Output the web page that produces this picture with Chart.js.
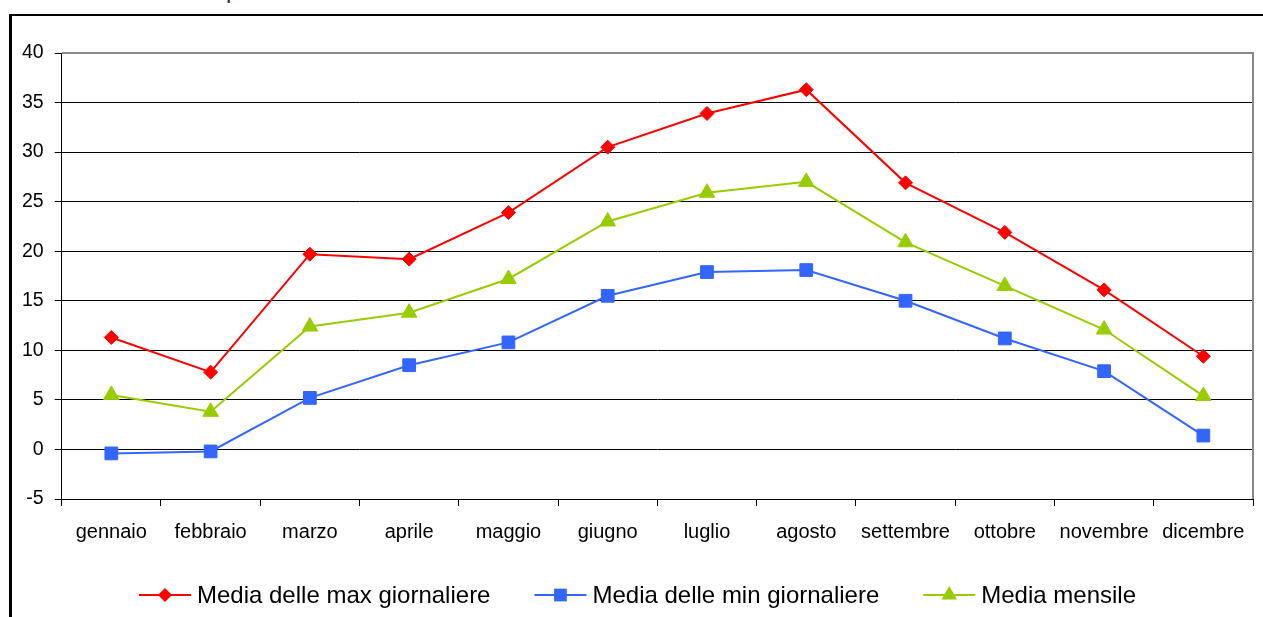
<!DOCTYPE html>
<html>
<head>
<meta charset="utf-8">
<script src="https://cdn.jsdelivr.net/npm/chart.js@4.4.1/dist/chart.umd.min.js"></script>
<style>
  html, body { margin: 0; padding: 0; background: #fff; overflow: hidden; }
  #frame { position: absolute; left: 9px; top: 14px; width: 3000px; height: 3000px;
           border-top: 2px solid #000; border-left: 3px solid #000; box-sizing: border-box; }
  #title { position: absolute; left: 226px; top: -22px; font: 24px/24px "Liberation Sans", Arial, sans-serif; color: #333; white-space: nowrap; }
  #wrap { position: absolute; left: 0; top: 0; width: 1263px; height: 617px; }
</style>
</head>
<body>
<div id="title">p</div>
<div id="frame"></div>
<div id="wrap"><canvas id="c" width="1263" height="617"></canvas></div>
<script>
// ---- data ----
const months = ['gennaio','febbraio','marzo','aprile','maggio','giugno','luglio','agosto','settembre','ottobre','novembre','dicembre'];
const maxVals  = [11.3, 7.8, 19.7, 19.2, 23.9, 30.5, 33.9, 36.3, 26.9, 21.9, 16.1, 9.4];
const minVals  = [-0.4, -0.2, 5.2, 8.5, 10.8, 15.5, 17.9, 18.1, 15.0, 11.2, 7.9, 1.4];
const meanVals = [5.5, 3.8, 12.4, 13.8, 17.2, 23.0, 25.9, 27.0, 20.9, 16.5, 12.1, 5.4];
const seriesLabels = ['Media delle max giornaliere', 'Media delle min giornaliere', 'Media mensile'];
const yTicks = [-5, 0, 5, 10, 15, 20, 25, 30, 35, 40];

const FONT = '"Liberation Sans", Arial, sans-serif';

function drawMarker(ctx, style, x, y, r) {
  ctx.beginPath();
  if (style === 'rectRot') {
    ctx.moveTo(x - r, y); ctx.lineTo(x, y - r); ctx.lineTo(x + r, y); ctx.lineTo(x, y + r);
  } else if (style === 'rect') {
    const s = Math.SQRT1_2 * r;
    ctx.rect(x - s, y - s, 2 * s, 2 * s);
  } else if (style === 'triangle') {
    const a = 2 * Math.PI / 3;
    ctx.moveTo(x, y - r);
    ctx.lineTo(x + Math.sin(a) * r, y - Math.cos(a) * r);
    ctx.lineTo(x + Math.sin(2 * a) * r, y - Math.cos(2 * a) * r);
  }
  ctx.closePath();
  ctx.fill();
}

const plotBorder = {
  id: 'plotBorder',
  beforeDatasetsDraw(chart) {
    const { ctx, chartArea: a } = chart;
    ctx.save();
    ctx.strokeStyle = '#888';
    ctx.lineWidth = 2;
    ctx.beginPath();
    ctx.moveTo(a.left, a.top);
    ctx.lineTo(a.right, a.top);
    ctx.lineTo(a.right, a.bottom);
    ctx.stroke();
    ctx.restore();
  }
};

const lineLegend = {
  id: 'lineLegend',
  afterDraw(chart) {
    const ctx = chart.ctx;
    ctx.save();
    ctx.font = '24px ' + FONT;
    ctx.textBaseline = 'middle';
    const lineLen = 52, gap = 6, itemGap = 44;
    const items = chart.data.datasets.map(ds => ({ ds, w: lineLen + gap + ctx.measureText(ds.label).width }));
    const total = items.reduce((s, i) => s + i.w, 0) + itemGap * (items.length - 1);
    let x = chart.width / 2 - total / 2 + 6;
    const y = chart.height - 22;
    items.forEach(it => {
      const ds = it.ds;
      ctx.strokeStyle = ds.borderColor;
      ctx.lineWidth = 2;
      ctx.beginPath();
      ctx.moveTo(x, y); ctx.lineTo(x + lineLen, y);
      ctx.stroke();
      ctx.fillStyle = ds.borderColor;
      drawMarker(ctx, ds.pointStyle, x + lineLen / 2, y, ds.pointRadius);
      ctx.fillStyle = '#000';
      ctx.fillText(ds.label, x + lineLen + gap, y + 1);
      x += it.w + itemGap;
    });
    ctx.restore();
  }
};

const mk = (label, data, color, style, r) => ({
  label, data,
  borderColor: color, backgroundColor: color,
  pointBackgroundColor: color, pointBorderColor: color,
  pointStyle: style, pointRadius: r, pointHoverRadius: r, pointBorderWidth: 1,
  borderWidth: 2, tension: 0, fill: false
});

new Chart(document.getElementById('c'), {
  type: 'line',
  data: {
    labels: months,
    datasets: [
      mk(seriesLabels[0], maxVals, '#FF0000', 'rectRot', 7),
      mk(seriesLabels[1], minVals, '#3366FF', 'rect', 9),
      mk(seriesLabels[2], meanVals, '#99CC00', 'triangle', 9)
    ]
  },
  options: {
    responsive: false,
    animation: false,
    layout: { padding: { left: 11, top: 53, right: 7, bottom: 59 } },
    plugins: { legend: { display: false }, tooltip: { enabled: false }, title: { display: false } },
    scales: {
      x: {
        type: 'category',
        offset: true,
        afterFit(scale) { scale.paddingRight = 0; scale.paddingLeft = 0; },
        grid: { offset: true, drawOnChartArea: false, drawTicks: true, tickLength: 7, tickColor: '#000' },
        border: { color: '#000', width: 1 },
        ticks: { color: '#000', font: { family: FONT, size: 20 }, padding: 14, maxRotation: 0, autoSkip: false }
      },
      y: {
        min: -5, max: 40,
        afterBuildTicks(scale) { scale.ticks = yTicks.map(v => ({ value: v })); },
        grid: { color: ctx => (ctx.tick && ctx.tick.value === 40 ? '#888' : '#000'), lineWidth: 1, tickLength: 7, tickColor: '#000' },
        border: { color: '#000', width: 1 },
        ticks: { color: '#000', font: { family: FONT, size: 19.5 }, padding: 11 }
      }
    }
  },
  plugins: [plotBorder, lineLegend]
});
</script>
</body>
</html>
